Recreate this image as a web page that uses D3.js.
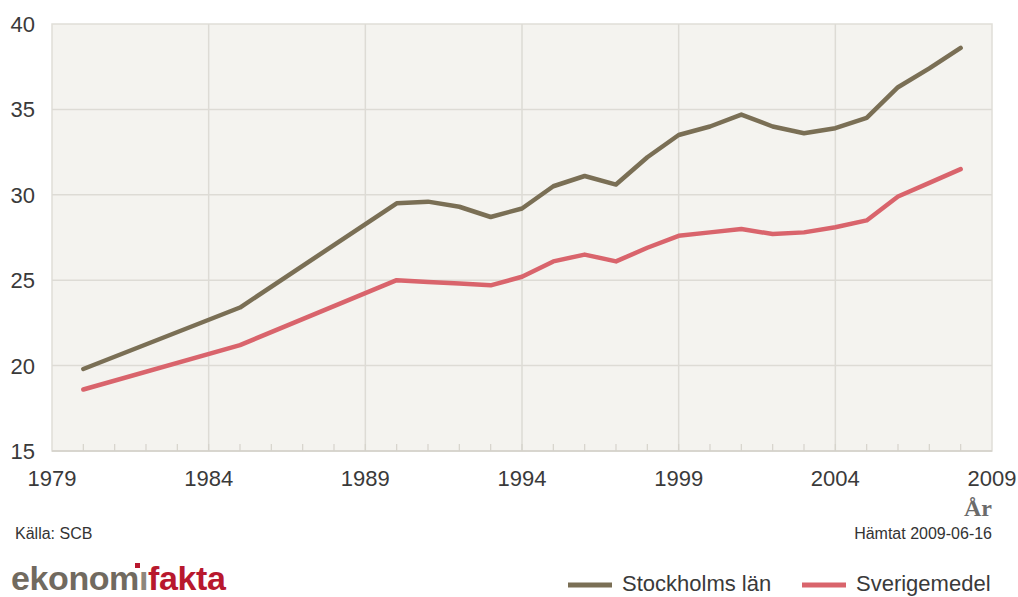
<!DOCTYPE html>
<html><head><meta charset="utf-8">
<script src="https://cdn.jsdelivr.net/npm/d3@7"></script>
<style>body{margin:0;background:#fff;}svg{display:block;font-family:"Liberation Sans",Arial,sans-serif;}</style>
</head><body>
<svg id="c" width="1018" height="597"></svg>
<script>
const years = [1980,1985,1990,1991,1992,1993,1994,1995,1996,1997,1998,1999,2000,2001,2002,2003,2004,2005,2006,2007,2008];
const stockholm = [19.8,23.4,29.5,29.6,29.3,28.7,29.2,30.5,31.1,30.6,32.2,33.5,34.0,34.7,34.0,33.6,33.9,34.5,36.3,37.4,38.6];
const sverige = [18.6,21.2,25.0,24.9,24.8,24.7,25.2,26.1,26.5,26.1,26.9,27.6,27.8,28.0,27.7,27.8,28.1,28.5,29.9,30.7,31.5];
const seriesNames = ["Stockholms län","Sverigemedel"];
const xTicks = [1979,1984,1989,1994,1999,2004,2009];
const yTicks = [15,20,25,30,35,40];
const colors = ["#7a6f55","#d9646c"];

const svg = d3.select("#c");
const L=52, R=992, T=24, B=451;
const x = d3.scaleLinear().domain([1979,2009]).range([L,R]);
const y = d3.scaleLinear().domain([15,40]).range([B,T]);

svg.append("rect").attr("x",L).attr("y",T).attr("width",R-L).attr("height",B-T)
  .attr("fill","#f4f3ef").attr("stroke","#e0ded8").attr("stroke-width",1.5);

const g = svg.append("g");
g.selectAll(".hg").data(yTicks.slice(1,-1)).enter().append("line")
  .attr("x1",L).attr("x2",R).attr("y1",d=>y(d)).attr("y2",d=>y(d))
  .attr("stroke","#dddbd5").attr("stroke-width",1.5);
g.selectAll(".vg").data(xTicks.slice(1,-1)).enter().append("line")
  .attr("y1",T).attr("y2",B).attr("x1",d=>x(d)).attr("x2",d=>x(d))
  .attr("stroke","#dddbd5").attr("stroke-width",1.5);
g.selectAll(".mt").data(d3.range(1980,2009)).enter().append("line")
  .attr("x1",d=>x(d)).attr("x2",d=>x(d)).attr("y1",B-7).attr("y2",B)
  .attr("stroke","#d6d3cc").attr("stroke-width",1.2);
svg.append("line").attr("x1",L).attr("x2",R).attr("y1",B).attr("y2",B).attr("stroke","#d3d0c9").attr("stroke-width",1.5);

svg.selectAll(".yl").data(yTicks).enter().append("text")
  .attr("x",35).attr("y",d=>y(d)).attr("dy","0.36em").attr("text-anchor","end")
  .attr("font-size",22).attr("fill","#3a3a3a").text(d=>d);
svg.selectAll(".xl").data(xTicks).enter().append("text")
  .attr("x",d=>x(d)).attr("y",486).attr("text-anchor","middle")
  .attr("font-size",22).attr("fill","#3a3a3a").text(d=>d);

svg.append("text").attr("x",992).attr("y",516).attr("text-anchor","end")
  .attr("font-family","'Liberation Serif','DejaVu Serif',serif").attr("font-weight","bold")
  .attr("font-size",24).attr("fill","#6b6b6b").text("År");

svg.append("text").attr("x",15).attr("y",539).attr("font-size",16).attr("fill","#333").text("Källa: SCB");
svg.append("text").attr("x",992).attr("y",539).attr("text-anchor","end").attr("font-size",16).attr("fill","#333").text("Hämtat 2009-06-16");

const line = d3.line().x((d,i)=>x(years[i])).y(d=>y(d));
[stockholm,sverige].forEach((s,k)=>{
  svg.append("path").datum(s).attr("d",line).attr("fill","none")
    .attr("stroke",colors[k]).attr("stroke-width",4.5).attr("stroke-linejoin","round").attr("stroke-linecap","round");
});

const logo = svg.append("text").attr("x",11).attr("y",590).attr("font-size",34).attr("font-weight","bold")
  .attr("letter-spacing","-0.4");
logo.append("tspan").attr("fill","#716a5f").text("ekonom");
logo.append("tspan").attr("fill","#8e877c").text("ı");
logo.append("tspan").attr("fill","#b8182e").text("fakta");
svg.append("rect").attr("x",135).attr("y",563).attr("width",5).attr("height",5).attr("fill","#b8182e");

const legX = [568,802];
seriesNames.forEach((n,k)=>{
  svg.append("line").attr("x1",legX[k]).attr("x2",legX[k]+44).attr("y1",585).attr("y2",585)
    .attr("stroke",colors[k]).attr("stroke-width",5);
  svg.append("text").attr("x",legX[k]+54).attr("y",591).attr("font-size",22).attr("fill","#3a3a3a").text(n);
});
</script>
</body></html>
